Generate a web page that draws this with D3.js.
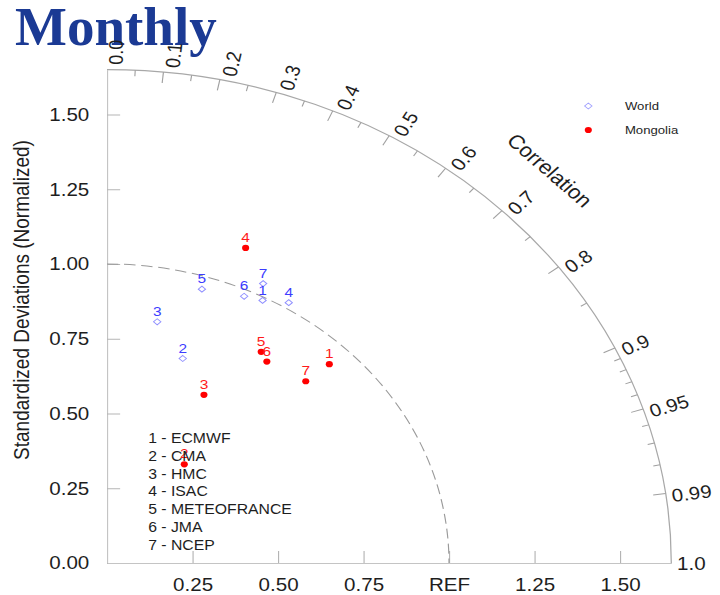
<!DOCTYPE html>
<html>
<head>
<meta charset="utf-8">
<script src="https://d3js.org/d3.v7.min.js"></script>
<style>
  html, body { margin: 0; padding: 0; background: #fff; }
  svg { display: block; }
  text { font-family: "Liberation Sans", Arial, Helvetica, sans-serif; }
</style>
</head>
<body>
<svg id="chart" width="720" height="595"></svg>
<script>
// ---- data -------------------------------------------------------------
const models = ["ECMWF", "CMA", "HMC", "ISAC", "METEOFRANCE", "JMA", "NCEP"];

// normalized standard deviation and correlation per model
const worldStd  = [0.989, 0.719, 0.820, 1.020, 0.957, 0.978, 1.040];
const worldCorr = [0.460, 0.308, 0.179, 0.521, 0.290, 0.410, 0.439];

const mongoliaStd  = [0.930, 0.400, 0.630, 1.129, 0.838, 0.820, 0.841];
const mongoliaCorr = [0.699, 0.565, 0.450, 0.359, 0.538, 0.570, 0.691];

const seriesNames = ["World", "Mongolia"];

// axis ticks
const stdTicks      = [0, 0.25, 0.5, 0.75, 1.0, 1.25, 1.5];
const stdTickLabels = ["0.00", "0.25", "0.50", "0.75", "1.00", "1.25", "1.50"];
const xTicks        = [0.25, 0.5, 0.75, 1.0, 1.25, 1.5];
const xTickLabels   = ["0.25", "0.50", "0.75", "REF", "1.25", "1.50"];

const corrLabelValues = [0.0, 0.1, 0.2, 0.3, 0.4, 0.5, 0.6, 0.7, 0.8, 0.9, 0.95, 0.99, 1.0];
const corrLabels      = ["0.0", "0.1", "0.2", "0.3", "0.4", "0.5", "0.6", "0.7", "0.8", "0.9", "0.95", "0.99", "1.0"];
const corrMajor = [0.1, 0.2, 0.3, 0.4, 0.5, 0.6, 0.7, 0.8, 0.9, 0.95, 0.99];
const corrMinor = [0.05, 0.15, 0.25, 0.35, 0.45, 0.55, 0.65, 0.75, 0.85,
                   0.91, 0.92, 0.93, 0.94, 0.96, 0.97, 0.98];

const maxStd = 1.65;
const refStd = 1.0;

// ---- layout -----------------------------------------------------------
const svg = d3.select("#chart");
const unit = 299;              // pixels per unit of std (vertical)
const stretch = 342 / 299;     // the diagram is drawn wider than tall
const ox = 107, oy = 563;      // origin of the quarter circle

const r = d3.scaleLinear().domain([0, maxStd]).range([0, maxStd * unit]);
const yScale = d3.scaleLinear().domain([0, maxStd]).range([0, -maxStd * unit]);
const xScale = d3.scaleLinear().domain([0, maxStd]).range([0, maxStd * unit]);

// polar -> cartesian (group coordinates, y up is negative)
const px = (s, c) => r(s * c);
const py = (s, c) => -r(s * Math.sqrt(Math.max(0, 1 - c * c)));

// title
svg.append("text")
  .attr("x", 15).attr("y", 45)
  .style("font-family", "'Liberation Serif', 'Times New Roman', serif")
  .style("font-weight", "bold")
  .style("font-size", "55px")
  .style("fill", "#1b3a94")
  .text("Monthly");

const g = svg.append("g")
  .attr("transform", `translate(${ox},${oy}) scale(${stretch},1)`);

// ---- standard deviation axes -----------------------------------------
const yAxis = d3.axisLeft(yScale)
  .tickValues(stdTicks)
  .tickFormat((d, i) => stdTickLabels[i])
  .tickSizeInner(-11.5)
  .tickSizeOuter(0)
  .tickPadding(15.5);

const yg = g.append("g").call(yAxis);
yg.select(".domain").attr("stroke", "#c4c4c4");
yg.selectAll(".tick line").attr("stroke", "#b4b4b4");
yg.selectAll(".tick text")
  .style("font-size", "18px").style("font-family", "'Liberation Sans', Arial, sans-serif")
  .attr("fill", "#1e1e1e");

const xAxis = d3.axisBottom(xScale)
  .tickValues(xTicks)
  .tickFormat((d, i) => xTickLabels[i])
  .tickSizeInner(-12)
  .tickSizeOuter(0)
  .tickPadding(15);

const xg = g.append("g").call(xAxis);
xg.select(".domain").attr("stroke", "#c4c4c4");
xg.selectAll(".tick line").attr("stroke", "#b4b4b4");
xg.selectAll(".tick text")
  .style("font-size", "18px").style("font-family", "'Liberation Sans', Arial, sans-serif")
  .attr("fill", "#1e1e1e");

g.append("text")
  .attr("transform", `translate(-68,${-263}) rotate(-90)`)
  .attr("text-anchor", "middle")
  .style("font-size", "19px")
  .attr("fill", "#1e1e1e")
  .text("Standardized Deviations (Normalized)");

// ---- arcs ------------------------------------------------------------
const outer = d3.path();
outer.arc(0, 0, r(maxStd), -Math.PI / 2, 0, false);
g.append("path").attr("d", outer.toString())
  .attr("fill", "none").attr("stroke", "#a8a8a8").attr("stroke-width", 1.1);

const refArc = d3.path();
refArc.arc(0, 0, r(refStd), -Math.PI / 2, 0, false);
g.append("path").attr("d", refArc.toString())
  .attr("fill", "none").attr("stroke", "#9a9a9a").attr("stroke-width", 1)
  .attr("stroke-dasharray", "10,5");

// correlation ticks (inward)
function corrTick(c, len) {
  const t = Math.acos(c);
  const r0 = r(maxStd), r1 = r(maxStd) - len;
  return [[r0 * Math.cos(t), -r0 * Math.sin(t)], [r1 * Math.cos(t), -r1 * Math.sin(t)]];
}
g.append("g").selectAll("line")
  .data(corrMajor.map(c => corrTick(c, 11)).concat(corrMinor.map(c => corrTick(c, 6))))
  .join("line")
  .attr("x1", d => d[0][0]).attr("y1", d => d[0][1])
  .attr("x2", d => d[1][0]).attr("y2", d => d[1][1])
  .attr("stroke", "#a0a0a0").attr("stroke-width", 1);

// correlation labels, reading outward along the radius
g.append("g").selectAll("text")
  .data(corrLabelValues)
  .join("text")
  .attr("transform", c => {
    const t = Math.acos(c);
    const rr = r(maxStd) + 5;
    return `translate(${rr * Math.cos(t)},${-rr * Math.sin(t)}) rotate(${-t * 180 / Math.PI})`;
  })
  .attr("dy", c => (1 + 6.5 * Math.sqrt(Math.sin(Math.acos(c)))).toFixed(2))
  .attr("dominant-baseline", "central")
  .attr("text-anchor", "start")
  .style("font-size", "18px")
  .attr("fill", "#1e1e1e")
  .text((c, i) => corrLabels[i]);

// axis title along the arc
{
  const t = Math.acos(0.702);
  const rr = r(1.845);
  g.append("text")
    .attr("transform", `translate(${rr * Math.cos(t)},${-rr * Math.sin(t)}) rotate(${90 - t * 180 / Math.PI})`)
    .attr("text-anchor", "middle")
    .attr("dominant-baseline", "central")
    .style("font-size", "19.5px")
    .attr("fill", "#1e1e1e")
    .text("Correlation");
}

// ---- markers ---------------------------------------------------------
const world = models.map((m, i) => ({ id: i + 1, s: worldStd[i], c: worldCorr[i] }));
const mong  = models.map((m, i) => ({ id: i + 1, s: mongoliaStd[i], c: mongoliaCorr[i] }));

const diamond = "M0,-3 L3.2,0 L0,3 L-3.2,0 Z";

g.append("g").selectAll("path")
  .data(world).join("path")
  .attr("d", diamond)
  .attr("transform", d => `translate(${px(d.s, d.c)},${py(d.s, d.c)})`)
  .attr("fill", "none").attr("stroke", "#8f8fff").attr("stroke-width", 0.9);

g.append("g").selectAll("text")
  .data(world).join("text")
  .attr("x", d => px(d.s, d.c)).attr("y", d => py(d.s, d.c) - 10.5)
  .attr("text-anchor", "middle").attr("dominant-baseline", "central")
  .style("font-size", "13.5px").attr("fill", "#3c3cff")
  .text(d => d.id);

g.append("g").selectAll("circle")
  .data(mong).join("circle")
  .attr("cx", d => px(d.s, d.c)).attr("cy", d => py(d.s, d.c))
  .attr("r", 3.1).attr("fill", "#ff0000");

g.append("g").selectAll("text")
  .data(mong).join("text")
  .attr("x", d => px(d.s, d.c)).attr("y", d => py(d.s, d.c) - 10.5)
  .attr("text-anchor", "middle").attr("dominant-baseline", "central")
  .style("font-size", "13.5px").attr("fill", "#ff1a1a")
  .text(d => d.id);

// ---- model key -------------------------------------------------------
g.append("g").selectAll("text")
  .data(models).join("text")
  .attr("x", 36)
  .attr("y", (d, i) => -124.7 + i * 17.8)
  .attr("dominant-baseline", "central")
  .style("font-size", "13.8px").attr("fill", "#1e1e1e")
  .text((d, i) => `${i + 1} - ${d}`);

// ---- series legend ---------------------------------------------------
const leg = g.append("g").attr("transform", "translate(420.8,-457)");
leg.append("path").attr("d", diamond)
  .attr("fill", "none").attr("stroke", "#a0a0ff").attr("stroke-width", 0.9);
leg.append("circle").attr("cy", 24).attr("r", 3.1).attr("fill", "#ff0000");
leg.selectAll("text")
  .data(seriesNames).join("text")
  .attr("x", 32).attr("y", (d, i) => i * 24)
  .attr("dominant-baseline", "central")
  .style("font-size", "11.5px").attr("fill", "#1e1e1e")
  .text(d => d);
</script>
</body>
</html>
